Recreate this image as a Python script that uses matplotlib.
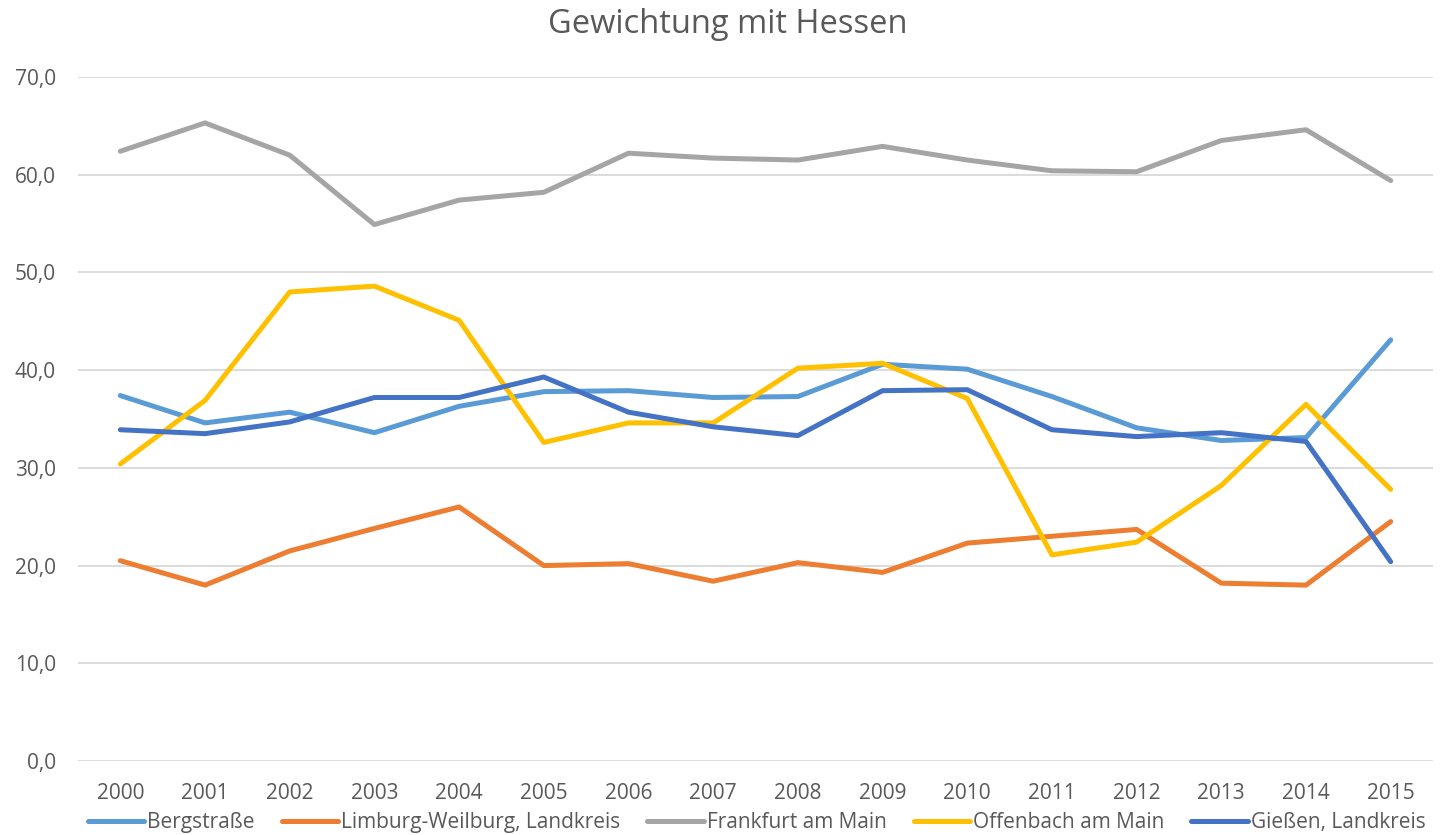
import matplotlib
matplotlib.use("Agg")
import matplotlib.pyplot as plt

plt.rcParams['font.family'] = ['Open Sans', 'DejaVu Sans']

years = [str(y) for y in range(2000, 2016)]

bergstrasse = [37.4, 34.6, 35.7, 33.6, 36.3, 37.8, 37.9, 37.2, 37.3, 40.6,
               40.1, 37.3, 34.1, 32.8, 33.1, 43.1]
limburg = [20.5, 18.0, 21.5, 23.8, 26.0, 20.0, 20.2, 18.4, 20.3, 19.3,
           22.3, 23.0, 23.7, 18.2, 18.0, 24.5]
frankfurt = [62.4, 65.3, 62.0, 54.9, 57.4, 58.2, 62.2, 61.7, 61.5, 62.9,
             61.5, 60.4, 60.3, 63.5, 64.6, 59.4]
offenbach = [30.4, 36.9, 48.0, 48.6, 45.1, 32.6, 34.6, 34.6, 40.2, 40.7,
             37.1, 21.1, 22.4, 28.2, 36.5, 27.8]
giessen = [33.9, 33.5, 34.7, 37.2, 37.2, 39.3, 35.7, 34.2, 33.3, 37.9,
           38.0, 33.9, 33.2, 33.6, 32.7, 20.4]

series = [
    ("Bergstraße", bergstrasse, "#5B9BD5"),
    ("Limburg-Weilburg, Landkreis", limburg, "#ED7D31"),
    ("Frankfurt am Main", frankfurt, "#A5A5A5"),
    ("Offenbach am Main", offenbach, "#FFC000"),
    ("Gießen, Landkreis", giessen, "#4472C4"),
]

txt = "#595959"

fig = plt.figure(figsize=(14.55, 8.35), dpi=100)
ax = fig.add_axes([0.0536, 0.0886, 0.9313, 0.8192])

x = range(len(years))
for name, vals, col in series:
    ax.plot(x, vals, color=col, lw=3.6, label=name,
            solid_capstyle='round', solid_joinstyle='round')

ax.set_xlim(-0.5, len(years) - 0.5)
ax.set_ylim(0, 70)
ax.set_yticks(range(0, 71, 10))
ax.set_yticklabels([f"{v},0" for v in range(0, 71, 10)])
ax.set_xticks(list(x))
ax.set_xticklabels(years)
ax.grid(axis='y', color='#D9D9D9', lw=1.3)
ax.set_axisbelow(True)
for s in ax.spines.values():
    s.set_visible(False)
ax.tick_params(length=0, labelsize=15, colors=txt)
ax.tick_params(axis='y', pad=16)
ax.tick_params(axis='x', pad=16)

fig.suptitle("Gewichtung mit Hessen", fontsize=23.5, color=txt, y=0.99)

fig.legend(loc='lower center', bbox_to_anchor=(0.52, -0.02), ncol=5,
           frameon=False, fontsize=15, labelcolor=txt,
           handlelength=2.7, handletextpad=0.15, columnspacing=1.3)

fig.savefig("out.png", dpi=100)
